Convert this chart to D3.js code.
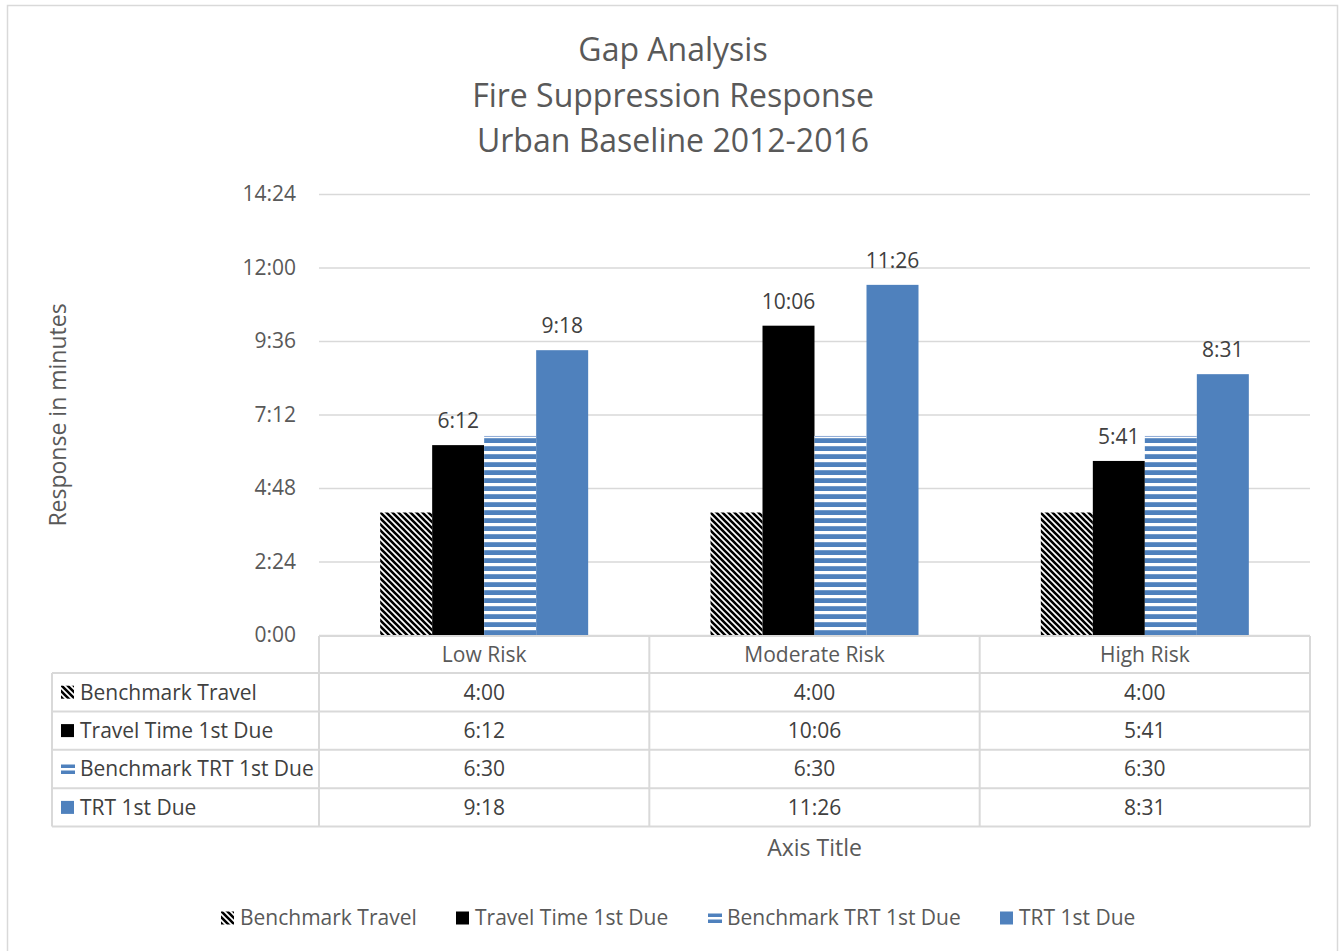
<!DOCTYPE html>
<html>
<head>
<meta charset="utf-8">
<script src="https://cdn.jsdelivr.net/npm/d3@7"></script>
<style>
  html, body { margin: 0; padding: 0; background: #fff; }
  svg { display: block; }
  text { font-family: "Open Sans", "Noto Sans", sans-serif; }
</style>
</head>
<body>
<svg id="chart" width="1339" height="951"></svg>
<script>
// Chart data: response times per risk category (m:ss)
const categories = ["Low Risk", "Moderate Risk", "High Risk"];
const seriesNames = ["Benchmark Travel", "Travel Time 1st Due", "Benchmark TRT 1st Due", "TRT 1st Due"];
const benchmarkTravel = ["4:00", "4:00", "4:00"];
const travelTime1stDue = ["6:12", "10:06", "5:41"];
const benchmarkTRT1stDue = ["6:30", "6:30", "6:30"];
const trt1stDue = ["9:18", "11:26", "8:31"];
const yTickLabels = ["0:00", "2:24", "4:48", "7:12", "9:36", "12:00", "14:24"];
const titleLines = ["Gap Analysis", "Fire Suppression Response", "Urban Baseline 2012-2016"];
const labelledSeries = ["Travel Time 1st Due", "TRT 1st Due"];

const toSec = s => { const [m, ss] = s.split(":").map(Number); return m * 60 + ss; };
const seriesValues = [benchmarkTravel, travelTime1stDue, benchmarkTRT1stDue, trt1stDue];

const svg = d3.select("#chart");
const FS = 21;       // body text size
const FS_AXIS = 23;  // axis title size

// Layout
const plot = { left: 319, right: 1310, top: 194, bottom: 635 };
const tableLeft = 52;
const rowH = 38.4;
const headerTop = 636, headerBottom = 673;

const defs = svg.append("defs");
// Dark downward diagonal hatch
const hatch = defs.append("pattern")
  .attr("id", "hatch").attr("patternUnits", "userSpaceOnUse")
  .attr("width", 6).attr("height", 6);
hatch.append("rect").attr("width", 6).attr("height", 6).attr("fill", "#fff");
hatch.append("path")
  .attr("d", "M-1.5,-1.5 L7.5,7.5 M-1.5,4.5 L1.5,7.5 M4.5,-1.5 L7.5,1.5")
  .attr("stroke", "#000").attr("stroke-width", 2.6);
// Wide horizontal stripes
const stripes = defs.append("pattern")
  .attr("id", "stripes").attr("patternUnits", "userSpaceOnUse")
  .attr("width", 8).attr("height", 8).attr("y", plot.bottom);
stripes.append("rect").attr("width", 8).attr("height", 8).attr("fill", "#fff");
stripes.append("rect").attr("y", 3.2).attr("width", 8).attr("height", 4.8).attr("fill", "#4f81bd");

const fills = ["url(#hatch)", "#000", "url(#stripes)", "#4f81bd"];

// Outer chart border
svg.append("rect").attr("x", 7.5).attr("y", 5.5).attr("width", 1330).attr("height", 960)
  .attr("fill", "none").attr("stroke", "#d9d9d9").attr("stroke-width", 1.5);

// Title
svg.append("g").selectAll("text").data(titleLines).join("text")
  .attr("x", 673).attr("y", (d, i) => 61 + i * 45.5)
  .attr("text-anchor", "middle").attr("font-size", 32).attr("fill", "#595959")
  .text(d => d);

// Scales
const y = d3.scaleLinear().domain([0, toSec("14:24")]).range([plot.bottom, plot.top]);
const x0 = d3.scaleBand().domain(categories).range([plot.left, plot.right]).paddingInner(0).paddingOuter(0);
const groupW = 208;
const x1 = d3.scaleBand().domain(seriesNames).range([0, groupW]).padding(0);
const groupOffset = (x0.bandwidth() - groupW) / 2;

// Gridlines + y axis labels
const yTicks = yTickLabels.map(toSec);
const yAxis = d3.axisLeft(y).tickValues(yTicks).tickFormat((d, i) => yTickLabels[i])
  .tickSize(-(plot.right - plot.left)).tickPadding(23);
const gy = svg.append("g").attr("transform", `translate(${plot.left},0)`).call(yAxis);
gy.select(".domain").remove();
gy.selectAll(".tick line").attr("stroke", "#d9d9d9").attr("stroke-width", 1.5);
gy.selectAll(".tick text").attr("font-size", FS).attr("fill", "#595959")
  .attr("font-family", "'Open Sans', sans-serif");

// Bars
const barData = [];
seriesNames.forEach((s, si) => {
  categories.forEach((c, ci) => {
    barData.push({ series: s, si, cat: c, label: seriesValues[si][ci], v: toSec(seriesValues[si][ci]) });
  });
});
svg.append("g").selectAll("rect").data(barData).join("rect")
  .attr("x", d => x0(d.cat) + groupOffset + x1(d.series))
  .attr("y", d => y(d.v))
  .attr("width", x1.bandwidth())
  .attr("height", d => y(0) - y(d.v))
  .attr("fill", d => fills[d.si]);
// thin top edge on the striped bars
svg.append("g").selectAll("line").data(barData.filter(d => d.si === 2)).join("line")
  .attr("x1", d => x0(d.cat) + groupOffset + x1(d.series))
  .attr("x2", d => x0(d.cat) + groupOffset + x1(d.series) + x1.bandwidth())
  .attr("y1", d => y(d.v) + 0.5).attr("y2", d => y(d.v) + 0.5)
  .attr("stroke", "#8eaad6").attr("stroke-width", 1);

// Data labels
svg.append("g").selectAll("text").data(barData.filter(d => labelledSeries.includes(d.series))).join("text")
  .attr("x", d => x0(d.cat) + groupOffset + x1(d.series) + x1.bandwidth() / 2)
  .attr("y", d => y(d.v) - 17)
  .attr("text-anchor", "middle").attr("font-size", FS).attr("fill", "#404040")
  .text(d => d.label);

// Data table
const tbl = svg.append("g").attr("stroke", "#d9d9d9").attr("stroke-width", 2).attr("fill", "none");
const rowTops = d3.range(seriesNames.length + 1).map(i => headerBottom + i * rowH);
tbl.append("line").attr("x1", plot.left).attr("x2", plot.right).attr("y1", headerTop).attr("y2", headerTop);
rowTops.forEach(ry => {
  tbl.append("line").attr("x1", tableLeft).attr("x2", plot.right).attr("y1", ry).attr("y2", ry);
});
const colXs = [plot.left, ...categories.map(c => x0(c) + x0.bandwidth())];
colXs.forEach(cx => {
  tbl.append("line").attr("x1", cx).attr("x2", cx).attr("y1", headerTop).attr("y2", rowTops[rowTops.length - 1]);
});
tbl.append("line").attr("x1", tableLeft).attr("x2", tableLeft).attr("y1", headerBottom).attr("y2", rowTops[rowTops.length - 1]);

// header categories
svg.append("g").selectAll("text").data(categories).join("text")
  .attr("x", d => x0(d) + x0.bandwidth() / 2).attr("y", (headerTop + headerBottom) / 2)
  .attr("dy", "0.35em").attr("text-anchor", "middle").attr("font-size", FS).attr("fill", "#595959")
  .text(d => d);

// legend key drawer
function drawKey(g, si, kx, ky) {
  if (si === 2) {
    g.append("rect").attr("x", kx).attr("y", ky + 2).attr("width", 14).attr("height", 3.5).attr("fill", "#4f81bd");
    g.append("rect").attr("x", kx).attr("y", ky + 8).attr("width", 14).attr("height", 3.5).attr("fill", "#4f81bd");
  } else {
    g.append("rect").attr("x", kx).attr("y", ky).attr("width", 13).attr("height", 13).attr("fill", fills[si]);
  }
}

// table rows
seriesNames.forEach((s, si) => {
  const cy = rowTops[si] + rowH / 2;
  const g = svg.append("g");
  drawKey(g, si, 61, cy - 6.5);
  g.append("text").attr("x", 80).attr("y", cy).attr("dy", "0.35em")
    .attr("font-size", FS).attr("fill", "#404040").text(s);
  categories.forEach((c, ci) => {
    g.append("text").attr("x", x0(c) + x0.bandwidth() / 2).attr("y", cy).attr("dy", "0.35em")
      .attr("text-anchor", "middle").attr("font-size", FS).attr("fill", "#404040")
      .text(seriesValues[si][ci]);
  });
});

// axis titles
svg.append("text").attr("x", (plot.left + plot.right) / 2).attr("y", 848).attr("dy", "0.35em")
  .attr("text-anchor", "middle").attr("font-size", FS_AXIS).attr("fill", "#595959").text("Axis Title");
svg.append("text").attr("transform", "translate(58,415) rotate(-90)").attr("dy", "0.35em")
  .attr("text-anchor", "middle").attr("font-size", FS_AXIS).attr("fill", "#595959").text("Response in minutes");

// bottom legend
const legendX = [221, 456, 708, 1000];
seriesNames.forEach((s, si) => {
  const g = svg.append("g");
  drawKey(g, si, legendX[si], 918 - 6.5);
  g.append("text").attr("x", legendX[si] + 19).attr("y", 918).attr("dy", "0.35em")
    .attr("font-size", FS).attr("fill", "#595959").text(s);
});
</script>
</body>
</html>
